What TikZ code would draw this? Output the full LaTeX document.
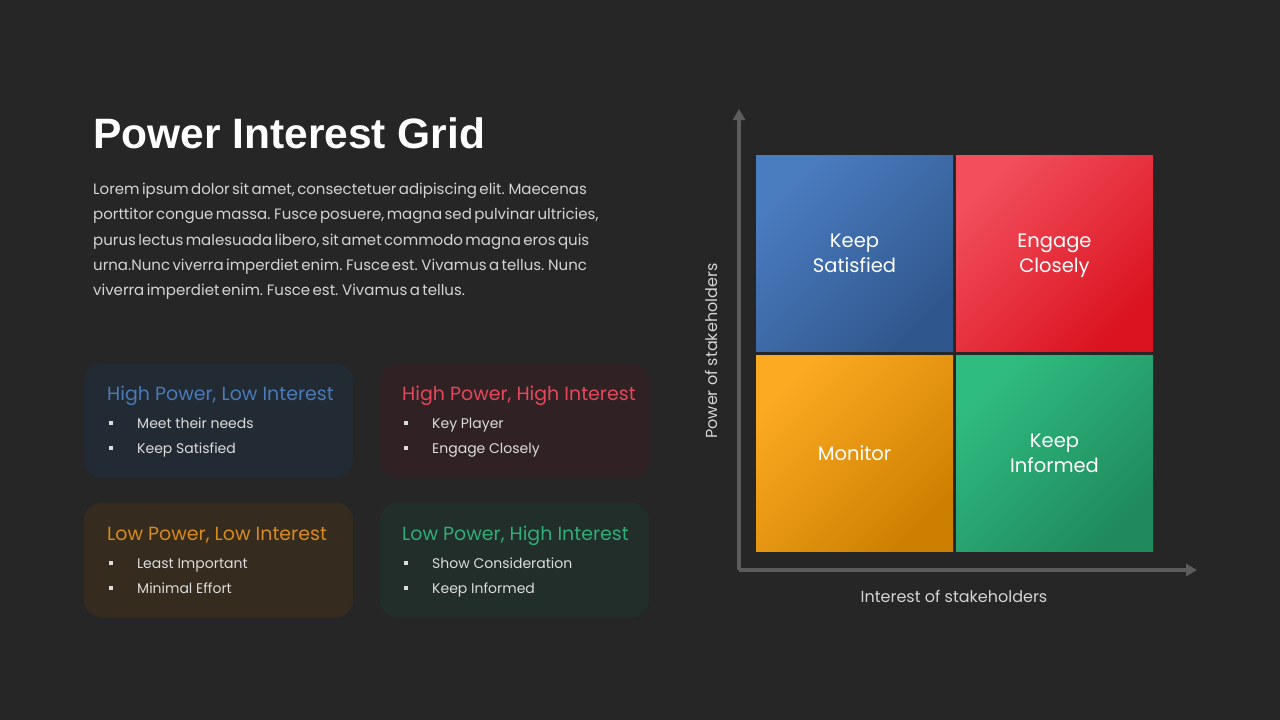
\documentclass[tikz,border=0pt]{standalone}
\usepackage{fontspec}
\setmainfont{Poppins}
\newfontfamily\titlefont{Liberation Sans}
\newfontfamily\bodyfont{Poppins}[WordSpace=0.6]
\usetikzlibrary{positioning,arrows.meta}

\definecolor{bgdark}{HTML}{262626}
\definecolor{bodygray}{HTML}{D4D4D4}
\definecolor{itemgray}{HTML}{DCDCDC}
\definecolor{axisgray}{HTML}{5C5C5C}
\definecolor{hlfill}{HTML}{222A33}
\definecolor{hhfill}{HTML}{302224}
\definecolor{llfill}{HTML}{352C1F}
\definecolor{lhfill}{HTML}{212E29}
\definecolor{hltext}{HTML}{4A7AB8}
\definecolor{hhtext}{HTML}{E4485A}
\definecolor{lltext}{HTML}{D98A1C}
\definecolor{lhtext}{HTML}{2FAE7A}
\definecolor{blueA}{HTML}{4A7CC0}
\definecolor{blueB}{HTML}{30578D}
\definecolor{redA}{HTML}{F24E5C}
\definecolor{redB}{HTML}{DB1320}
\definecolor{orangeA}{HTML}{FCAA22}
\definecolor{orangeB}{HTML}{CD8000}
\definecolor{greenA}{HTML}{2FBC81}
\definecolor{greenB}{HTML}{1F8A5C}

\newcommand{\bul}{\raisebox{3pt}{\rule{4pt}{4pt}}\hspace{24pt}}

\tikzset{
	card/.style={rounded corners=18pt, minimum width=269pt, minimum height=115pt, inner sep=0pt},
	cardhead/.style={anchor=base west, inner sep=0pt, font=\fontsize{19}{22}\selectfont},
	item/.style={anchor=base west, inner sep=0pt, text=itemgray, font=\fontsize{14}{16}\selectfont},
	cell/.style={minimum width=197pt, minimum height=196pt, inner sep=0pt, text=white, align=center, font=\fontsize{19.5}{25}\selectfont},
	axisline/.style={draw=axisgray, line width=3.5pt, -{Triangle[length=11pt,width=12pt]}},
	axislabel/.style={text=bodygray, inner sep=0pt, font=\fontsize{16}{18}\selectfont}
}

\begin{document}
\begin{tikzpicture}[x=1pt,y=-1pt]
	\fill[bgdark] (0,0) rectangle (1280,720);

	\node[anchor=base west, inner sep=0pt, text=white, font=\titlefont\bfseries\fontsize{42.5}{50}\selectfont] (title) at (93,148) {Power Interest Grid};
	\node[anchor=north west, inner sep=0pt, align=left, text=bodygray, font=\bodyfont\fontsize{15}{25.3}\selectfont] (intro) at (93,183) {Lorem ipsum dolor sit amet, consectetuer adipiscing elit. Maecenas\\porttitor congue massa. Fusce posuere, magna sed pulvinar ultricies,\\purus lectus malesuada libero, sit amet commodo magna eros quis\\urna.Nunc viverra imperdiet enim. Fusce est. Vivamus a tellus. Nunc\\viverra imperdiet enim. Fusce est. Vivamus a tellus.};

	\node[card, fill=hlfill] (hl) at (218.5,420.5) {};
	\node[card, fill=hhfill] (hh) at (514.5,420.5) {};
	\node[card, fill=llfill] (ll) at (218.5,560) {};
	\node[card, fill=lhfill] (lh) at (514.5,560) {};

	\node[cardhead, text=hltext] (hlhead) at (107,400) {High Power, Low Interest};
	\node[item] (hla) at (109,428) {\bul Meet their needs};
	\node[item] (hlb) at (109,453) {\bul Keep Satisfied};

	\node[cardhead, text=hhtext] (hhhead) at (402,400) {High Power, High Interest};
	\node[item] (hha) at (404,428) {\bul Key Player};
	\node[item] (hhb) at (404,453) {\bul Engage Closely};

	\node[cardhead, text=lltext] (llhead) at (107,540) {Low Power, Low Interest};
	\node[item] (lla) at (109,568) {\bul Least Important};
	\node[item] (llb) at (109,593) {\bul Minimal Effort};

	\node[cardhead, text=lhtext] (lhhead) at (402,540) {Low Power, High Interest};
	\node[item] (lha) at (404,568) {\bul Show Consideration};
	\node[item] (lhb) at (404,593) {\bul Keep Informed};

	% grid
	\node[cell, top color=blueA, bottom color=blueB, shading angle=45] (ks) at (854.5,253) {Keep\\Satisfied};
	\node[cell, top color=redA, bottom color=redB, shading angle=45] (ec) at (1054.5,253) {Engage\\\smash{Closely}};
	\node[cell, top color=orangeA, bottom color=orangeB, shading angle=45] (mo) at (854.5,453.5) {Monitor};
	\node[cell, top color=greenA, bottom color=greenB, shading angle=45] (ki) at (1054.5,453.5) {Keep\\Informed};

	\coordinate (o) at (739,570);
	\coordinate (ytop) at (739,109);
	\coordinate (xend) at (1197,570);
	\draw[axisline] (o) -- (ytop);
	\draw[axisline] (o) -- (xend);

	\node[axislabel, rotate=90] (ylab) at (711,351) {Power of stakeholders};
	\node[axislabel, anchor=base] (xlab) at (954,602) {Interest of stakeholders};
\end{tikzpicture}
\end{document}
